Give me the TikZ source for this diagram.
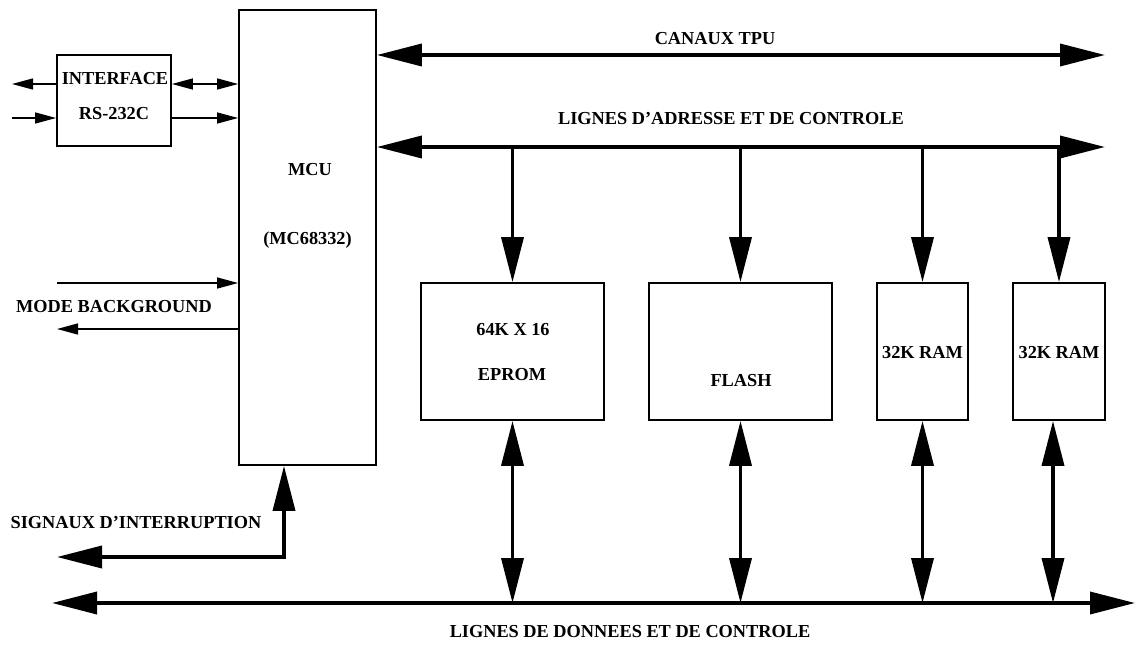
\documentclass[tikz,border=0pt]{standalone}
\usepackage{fontspec}
\setmainfont{Liberation Serif}
\usepackage{tikz}
\usetikzlibrary{arrows.meta, calc}
\tikzset{>={Triangle[length=45pt,width=22pt]}}
\tikzset{
    box/.style={draw, line width=1.8pt, inner sep=0pt},
    lbl/.style={font=\bfseries\fontsize{18.3}{22}\selectfont, inner sep=0pt, text height=12.1pt, text depth=0pt},
    bus/.style={line width=3.6pt},
    sig/.style={line width=1.3pt, >={Triangle[length=21pt,width=11pt]}}
}

\begin{document}
\begin{tikzpicture}[x=1pt, y=-1pt]
        \useasboundingbox (0, 0) rectangle (1135, 645);
        % blocs
        \node[box, minimum width=137pt, minimum height=455pt] (mcu) at (307.5, 237.5) {};
        \node[box, minimum width=114pt, minimum height=91pt] (iface) at (114, 100.5) {};
        \node[box, minimum width=183pt, minimum height=137pt] (eprom) at (512.5, 351.5) {};
        \node[box, minimum width=183pt, minimum height=137pt] (flash) at (740.5, 351.5) {};
        \node[box, minimum width=91pt, minimum height=137pt] (ram1) at (922.5, 351.5) {};
        \node[box, minimum width=92pt, minimum height=137pt] (ram2) at (1059, 351.5) {};
        % textes
        \node[lbl] (mcuname) at (310, 169) {MCU};
        \node[lbl] (mcuref) at (307.5, 238) {(MC68332)};
        \node[lbl] (ifacename) at (115, 78) {INTERFACE};
        \node[lbl] (ifaceref) at (114, 113) {RS-232C};
        \node[lbl] (epromsize) at (513, 329) {64K X 16};
        \node[lbl] (epromname) at (512, 374) {EPROM};
        \node[lbl] (flashname) at (741, 380) {FLASH};
        \node[lbl] (ram1name) at (922.5, 352) {32K RAM};
        \node[lbl] (ram2name) at (1059, 352) {32K RAM};
        \node[lbl] (tpulbl) at (715, 38) {CANAUX TPU};
        \node[lbl] (adrlbl) at (731, 118) {LIGNES D'ADRESSE ET DE CONTROLE};
        \node[lbl] (datlbl) at (630, 631) {LIGNES DE DONNEES ET DE CONTROLE};
        \node[lbl] (modelbl) at (114, 306) {MODE BACKGROUND};
        \node[lbl] (irqlbl) at (136, 522) {SIGNAUX D'INTERRUPTION};
        % extremites libres
        \coordinate (tpuR) at (1105, 55);
        \coordinate (adrR) at (1105, 147);
        \coordinate (datL) at (52, 603);
        \coordinate (datR) at (1135, 603);
        \coordinate (irqL) at (57, 557);
        \coordinate (irqT) at ([xshift=-23.5pt]mcu.south);
        \coordinate (serOut) at (12, 84);
        \coordinate (serIn) at (12, 118);
        \coordinate (modeIn) at (57, 283);
        \coordinate (modeOut) at (57, 329);
        % bus
        \draw[bus, <->] (mcu.east |- tpuR) -- (tpuR);
        \draw[bus, <->] (mcu.east |- adrR) -- (adrR);
        \draw[bus, <->] (datL) -- (datR);
        \foreach \b in {eprom, flash, ram1, ram2}
            \draw[bus, ->] (\b.north |- adrR) -- (\b.north);
        \foreach \b in {eprom, flash, ram1}
            \draw[bus, <->] (\b.south) -- (\b.south |- datL);
        \draw[bus, <->] ([xshift=-6pt]ram2.south) -- ([xshift=-6pt]ram2.south |- datL);
        \draw[bus, <->] (irqL) -| (irqT);
        % liaisons serie et mode background
        \draw[sig, ->] (iface.west |- serOut) -- (serOut);
        \draw[sig, ->] (serIn) -- (iface.west |- serIn);
        \draw[sig, <->] (iface.east |- serOut) -- (mcu.west |- serOut);
        \draw[sig, ->] (iface.east |- serIn) -- (mcu.west |- serIn);
        \draw[sig, ->] (modeIn) -- (mcu.west |- modeIn);
        \draw[sig, ->] (mcu.west |- modeOut) -- (modeOut);
    \end{tikzpicture}
\end{document}
